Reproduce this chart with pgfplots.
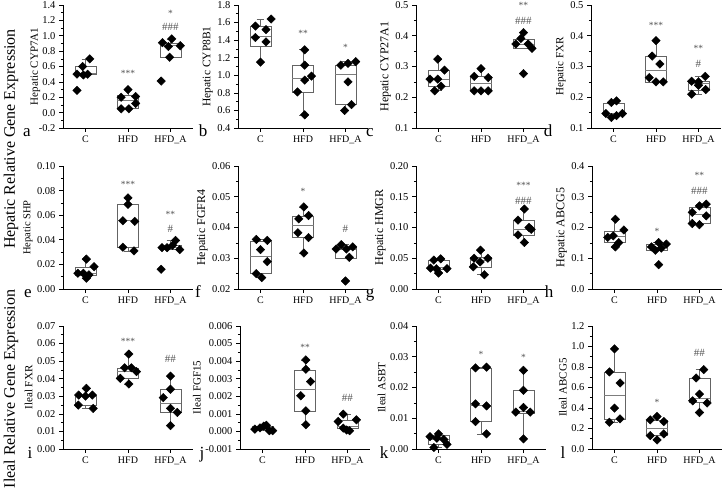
\documentclass[border=0pt]{standalone}
\usepackage{pgfplots}
\pgfplotsset{compat=1.18}
\usepgfplotslibrary{statistics}
\usepackage{fontspec}
\setmainfont{Liberation Serif}

\definecolor{boxgray}{RGB}{100,100,100}
\definecolor{medgray}{RGB}{125,125,125}
\definecolor{stargray}{RGB}{85,85,85}

\tikzset{sig/.style={stargray, font=\fontsize{9.5}{9.5}\selectfont},
  hsh/.style={stargray, font=\fontsize{11}{11}\selectfont}}

\pgfplotsset{
  panel/.style={
    scale only axis, width=130pt, height=123pt,
    anchor=north west,
    xmin=0.47, xmax=3.53,
    axis x line=bottom, axis y line=left,
    axis line style={-, line width=0.8pt},
    xtick={1,2,3}, xticklabels={C,HFD,HFD\_A},
    tick align=outside, major tick length=4pt, minor tick length=2.2pt,
    minor y tick num=1,
    tick style={black, line width=0.6pt},
    x tick label style={font=\fontsize{10}{10}\selectfont},
    y tick label style={font=\fontsize{10.5}{10.5}\selectfont},
    /pgf/number format/assume math mode=true,
    scaled y ticks=false,
    ylabel style={inner sep=1pt},
    clip=false,
    boxplot/draw direction=y,
    boxplot/box extend=0.5,
    boxplot/whisker extend=0.18,
    boxplot/every median/.style={medgray, line width=0.7pt},
  },
  dec/.style={yticklabel style={/pgf/number format/.cd, fixed, fixed zerofill, precision=#1}},
  bx/.style={boxgray, line width=0.6pt, solid, mark=none},
  pts/.style={only marks, mark=square*, mark size=3pt,
    mark options={rotate=45, fill=black, draw=black}},
}
\newcommand{\bp}[6]{\addplot[bx, boxplot prepared={draw position=#1, lower whisker=#2, lower quartile=#3, median=#4, upper quartile=#5, upper whisker=#6}] coordinates {};}

\begin{document}
\begin{tikzpicture}
\path[use as bounding box] (0,0) rectangle (723pt,-489pt);

% ---------- row 1 ----------
\begin{axis}[panel, at={(63pt,-5pt)}, dec=1, ymin=-0.2, ymax=1.4, ytick={-0.2,0,...,1.4},
  ylabel shift=-6pt,
  ylabel={\fontsize{11}{11}\selectfont Hepatic CYP7A1}]
\bp{1}{0.49}{0.495}{0.505}{0.60}{0.70}
\bp{2}{0.05}{0.06}{0.16}{0.22}{0.30}
\bp{3}{0.72}{0.72}{0.87}{0.90}{0.96}
\addplot[pts] coordinates {(1.10,0.70) (0.93,0.60) (0.80,0.50) (0.95,0.49) (1.05,0.50) (0.80,0.29)
  (2.00,0.30) (1.84,0.20) (2.18,0.21) (2.18,0.12) (1.84,0.05) (2.02,0.05)
  (2.81,0.91) (3.03,0.96) (3.23,0.87) (2.95,0.86) (2.98,0.72) (2.78,0.41)};
\node[sig] at (axis cs:2,0.505) {***};
\node[sig] at (axis cs:3,1.29) {*};
\node[hsh] at (axis cs:3,1.12) {\#\#\#};
\end{axis}

\begin{axis}[panel, at={(238pt,-5pt)}, dec=1, ymin=0.4, ymax=1.8, ytick={0.4,0.6,...,1.8},
  ylabel={\fontsize{11.5}{11.5}\selectfont Hepatic CYP8B1}]
\bp{1}{1.15}{1.325}{1.445}{1.56}{1.64}
\bp{2}{0.55}{0.81}{0.965}{1.115}{1.30}
\bp{3}{0.60}{0.666}{1.01}{1.115}{1.16}
\addplot[pts] coordinates {(1.25,1.64) (0.88,1.56) (1.13,1.52) (0.88,1.43) (1.13,1.38) (1.00,1.15)
  (2.04,1.29) (2.04,1.115) (2.04,0.945) (2.20,0.99) (1.87,0.81) (2.04,0.55)
  (2.89,1.115) (3.06,1.135) (3.24,1.155) (3.06,0.925) (3.14,0.666) (2.98,0.60)};
\node[sig] at (axis cs:2,1.48) {**};
\node[sig] at (axis cs:3,1.317) {*};
\end{axis}

\begin{axis}[panel, at={(416pt,-5pt)}, dec=1, ymin=0.1, ymax=0.5, ytick={0.1,0.2,...,0.5},
  ylabel={\fontsize{12}{12}\selectfont Hepatic CYP27A1}]
\bp{1}{0.221}{0.236}{0.259}{0.288}{0.324}
\bp{2}{0.221}{0.221}{0.245}{0.268}{0.293}
\bp{3}{0.359}{0.359}{0.373}{0.389}{0.41}
\addplot[pts] coordinates {(0.98,0.324) (1.14,0.288) (0.80,0.259) (0.98,0.259) (1.06,0.236) (0.91,0.221)
  (2.00,0.293) (1.84,0.268) (2.17,0.264) (1.84,0.221) (2.00,0.221) (2.17,0.221)
  (3.00,0.41) (2.94,0.391) (2.82,0.373) (3.11,0.373) (3.20,0.359) (3.00,0.277)};
\node[sig] at (axis cs:3,0.50) {**};
\node[hsh] at (axis cs:3,0.449) {\#\#\#};
\end{axis}

\begin{axis}[panel, at={(591pt,-5pt)}, dec=1, ymin=0.1, ymax=0.5, ytick={0.1,0.2,...,0.5},
  ylabel={\fontsize{11}{11}\selectfont Hepatic FXR}]
\bp{1}{0.134}{0.141}{0.147}{0.181}{0.188}
\bp{2}{0.25}{0.25}{0.286}{0.334}{0.384}
\bp{3}{0.21}{0.224}{0.245}{0.252}{0.268}
\addplot[pts] coordinates {(0.95,0.183) (1.07,0.188) (0.82,0.147) (0.95,0.134) (1.07,0.14) (1.21,0.147)
  (2.00,0.384) (1.91,0.334) (2.09,0.308) (1.84,0.264) (2.00,0.25) (2.17,0.25)
  (3.16,0.268) (2.84,0.252) (3.00,0.25) (3.00,0.239) (2.84,0.21) (3.17,0.225)};
\node[sig] at (axis cs:2,0.435) {***};
\node[sig] at (axis cs:3,0.359) {**};
\node[hsh] at (axis cs:3,0.31) {\#};
\end{axis}

% ---------- row 2 ----------
\begin{axis}[panel, at={(63pt,-166pt)}, dec=2, ymin=0, ymax=0.1, ytick={0,0.02,...,0.1},
  ylabel={\fontsize{10.5}{10.5}\selectfont Hepatic SHP}]
\bp{1}{0.0088}{0.0115}{0.0128}{0.018}{0.0243}
\bp{2}{0.031}{0.034}{0.0555}{0.069}{0.0741}
\bp{3}{0.032}{0.032}{0.0336}{0.0355}{0.0395}
\addplot[pts] coordinates {(1.02,0.0243) (1.20,0.0181) (0.82,0.0128) (0.95,0.0128) (1.08,0.0115) (1.02,0.0088)
  (2.00,0.0741) (2.00,0.0688) (1.88,0.0555) (2.16,0.055) (1.88,0.034) (2.14,0.031)
  (2.80,0.0336) (2.92,0.0336) (3.05,0.0355) (3.12,0.0395) (3.22,0.032) (2.78,0.016)};
\node[sig] at (axis cs:2,0.085) {***};
\node[sig] at (axis cs:3,0.061) {**};
\node[hsh] at (axis cs:3,0.049) {\#};
\end{axis}

\begin{axis}[panel, at={(238pt,-166pt)}, dec=2, ymin=0.02, ymax=0.06, ytick={0.02,0.03,...,0.06},
  ylabel={\fontsize{12}{12}\selectfont Hepatic FGFR4}]
\bp{1}{0.0237}{0.025}{0.0306}{0.0356}{0.0361}
\bp{2}{0.0317}{0.0367}{0.0406}{0.0437}{0.0467}
\bp{3}{0.030}{0.030}{0.033}{0.0337}{0.0345}
\addplot[pts] coordinates {(0.90,0.0361) (1.16,0.0358) (1.00,0.0328) (1.16,0.0289) (0.90,0.025) (1.03,0.0237)
  (2.02,0.0467) (1.90,0.0428) (2.13,0.0439) (1.88,0.0383) (2.13,0.0367) (2.02,0.0317)
  (2.90,0.0344) (2.78,0.033) (3.02,0.033) (3.17,0.0337) (3.09,0.0303) (3.00,0.0226)};
\node[sig] at (axis cs:2,0.0517) {*};
\node[hsh] at (axis cs:3,0.0394) {\#};
\end{axis}

\begin{axis}[panel, at={(416pt,-166pt)}, dec=2, ymin=0, ymax=0.2, ytick={0,0.05,...,0.2},
  ylabel={\fontsize{12}{12}\selectfont Hepatic HMGR}]
\bp{1}{0.026}{0.0324}{0.035}{0.047}{0.049}
\bp{2}{0.024}{0.036}{0.047}{0.051}{0.063}
\bp{3}{0.0757}{0.088}{0.097}{0.112}{0.13}
\addplot[pts] coordinates {(0.89,0.047) (1.05,0.049) (0.81,0.034) (0.95,0.033) (1.00,0.026) (1.20,0.033)
  (1.99,0.0632) (1.84,0.050) (2.16,0.050) (1.98,0.044) (1.82,0.036) (2.08,0.0232)
  (3.02,0.13) (2.87,0.112) (3.13,0.10) (3.18,0.097) (2.87,0.088) (3.02,0.0757)};
\node[sig] at (axis cs:3,0.168) {***};
\node[hsh] at (axis cs:3,0.144) {\#\#\#};
\end{axis}

\begin{axis}[panel, at={(592pt,-166pt)}, dec=1, ymin=0, ymax=0.4, ytick={0,0.1,...,0.4},
  ylabel={\fontsize{12}{12}\selectfont Hepatic ABCG5}]
\bp{1}{0.137}{0.151}{0.17}{0.189}{0.227}
\bp{2}{0.127}{0.127}{0.135}{0.146}{0.151}
\bp{3}{0.209}{0.213}{0.243}{0.267}{0.276}
\addplot[pts] coordinates {(1.02,0.227) (1.22,0.192) (0.84,0.168) (0.97,0.173) (1.10,0.151) (1.02,0.137)
  (2.04,0.151) (1.87,0.137) (2.22,0.146) (1.96,0.126) (2.10,0.133) (2.04,0.079)
  (3.16,0.276) (3.00,0.27) (2.83,0.249) (3.16,0.238) (2.83,0.213) (3.00,0.209)};
\node[sig] at (axis cs:2,0.186) {*};
\node[sig] at (axis cs:3,0.368) {**};
\node[hsh] at (axis cs:3,0.32) {\#\#\#};
\end{axis}

% ---------- row 3 ----------
\begin{axis}[panel, at={(63pt,-326pt)}, dec=2, ymin=0, ymax=0.07, ytick={0,0.01,...,0.07},
  ylabel={\fontsize{11}{11}\selectfont Ileal FXR}]
\bp{1}{0.0231}{0.025}{0.0301}{0.0307}{0.0345}
\bp{2}{0.037}{0.040}{0.044}{0.046}{0.054}
\bp{3}{0.0133}{0.021}{0.026}{0.034}{0.0415}
\addplot[pts] coordinates {(1.02,0.0345) (0.84,0.0307) (1.00,0.0301) (1.16,0.0307) (0.83,0.025) (1.18,0.0231)
  (2.02,0.054) (1.92,0.0462) (2.08,0.0462) (2.20,0.044) (1.82,0.0402) (2.02,0.037)
  (3.00,0.0415) (3.00,0.034) (2.83,0.0292) (3.00,0.0231) (3.16,0.0208) (3.00,0.0133)};
\node[sig] at (axis cs:2,0.061) {***};
\node[hsh] at (axis cs:3,0.0515) {\#\#};
\end{axis}

\begin{axis}[panel, at={(240pt,-326pt)}, dec=3, ymin=-0.001, ymax=0.006, ytick={-0.001,0,...,0.006},
  ylabel={\fontsize{11}{11}\selectfont Ileal FGF15}]
\bp{1}{0.00004}{0.0001}{0.00017}{0.00028}{0.00035}
\bp{2}{0.00038}{0.00117}{0.00242}{0.0035}{0.00407}
\bp{3}{0.00004}{0.00019}{0.0003}{0.00063}{0.00098}
\addplot[pts] coordinates {(0.82,0.00013) (0.94,0.0002) (1.03,0.0003) (1.09,0.00035) (1.16,0.00004) (1.24,0.00004)
  (2.02,0.00407) (2.02,0.00354) (2.13,0.00284) (1.90,0.00203) (2.02,0.00117) (2.02,0.00038)
  (2.90,0.00098) (2.78,0.00057) (3.21,0.00066) (2.90,0.00019) (3.05,0.00004) (2.98,0.00008)};
\node[sig] at (axis cs:2,0.0048) {**};
\node[hsh] at (axis cs:3,0.0019) {\#\#};
\end{axis}

\begin{axis}[panel, at={(416pt,-326pt)}, dec=2, ymin=0, ymax=0.04, ytick={0,0.01,...,0.04},
  ylabel={\fontsize{11}{11}\selectfont Ileal ASBT}]
\bp{1}{0.0005}{0.0015}{0.0032}{0.0046}{0.0049}
\bp{2}{0.0049}{0.009}{0.0142}{0.0264}{0.0266}
\bp{3}{0.0033}{0.0117}{0.0124}{0.0191}{0.0256}
\addplot[pts] coordinates {(1.00,0.0049) (0.80,0.004) (1.12,0.0032) (0.96,0.0035) (1.20,0.0015) (0.89,0.0005)
  (1.87,0.0264) (2.13,0.0266) (1.87,0.0147) (2.13,0.014) (1.87,0.0089) (2.13,0.0049)
  (3.00,0.0256) (3.00,0.0191) (3.00,0.0135) (2.82,0.012) (3.16,0.012) (3.00,0.0033)};
\node[sig] at (axis cs:2,0.0307) {*};
\node[sig] at (axis cs:3,0.0297) {*};
\end{axis}

\begin{axis}[panel, at={(592pt,-326pt)}, dec=1, ymin=0, ymax=1.2, ytick={0,0.2,...,1.2},
  ylabel={\fontsize{11}{11}\selectfont Ileal ABCG5}]
\bp{1}{0.261}{0.294}{0.523}{0.752}{0.977}
\bp{2}{0.088}{0.137}{0.203}{0.284}{0.317}
\bp{3}{0.356}{0.454}{0.497}{0.693}{0.775}
\addplot[pts] coordinates {(1.00,0.977) (0.88,0.752) (1.13,0.644) (1.00,0.399) (1.13,0.294) (0.88,0.261)
  (2.00,0.317) (1.84,0.284) (2.16,0.268) (1.84,0.131) (2.16,0.147) (2.00,0.088)
  (3.10,0.775) (2.92,0.693) (3.00,0.536) (2.84,0.47) (3.18,0.448) (3.00,0.356)};
\node[sig] at (axis cs:2,0.457) {*};
\node[hsh] at (axis cs:3,0.938) {\#\#};
\end{axis}

% panel letters
\begin{scope}[every node/.style={font=\fontsize{17}{17}\selectfont, anchor=base}]
\node at (27pt,-137pt) {a};
\node at (203pt,-137pt) {b};
\node at (370pt,-137pt) {c};
\node at (548pt,-137pt) {d};
\node at (28pt,-297pt) {e};
\node at (198pt,-297pt) {f};
\node at (370pt,-297pt) {g};
\node at (549pt,-297pt) {h};
\node at (30pt,-458pt) {i};
\node at (202pt,-458pt) {j};
\node at (384pt,-458pt) {k};
\node at (563pt,-458pt) {l};
\end{scope}

% row titles
\node[rotate=90, font=\fontsize{16}{16}\selectfont] at (11pt,-139pt) {Hepatic Relative Gene Expression};
\node[rotate=90, font=\fontsize{16}{16}\selectfont] at (11pt,-389pt) {Ileal Relative Gene Expression};
\end{tikzpicture}
\end{document}
